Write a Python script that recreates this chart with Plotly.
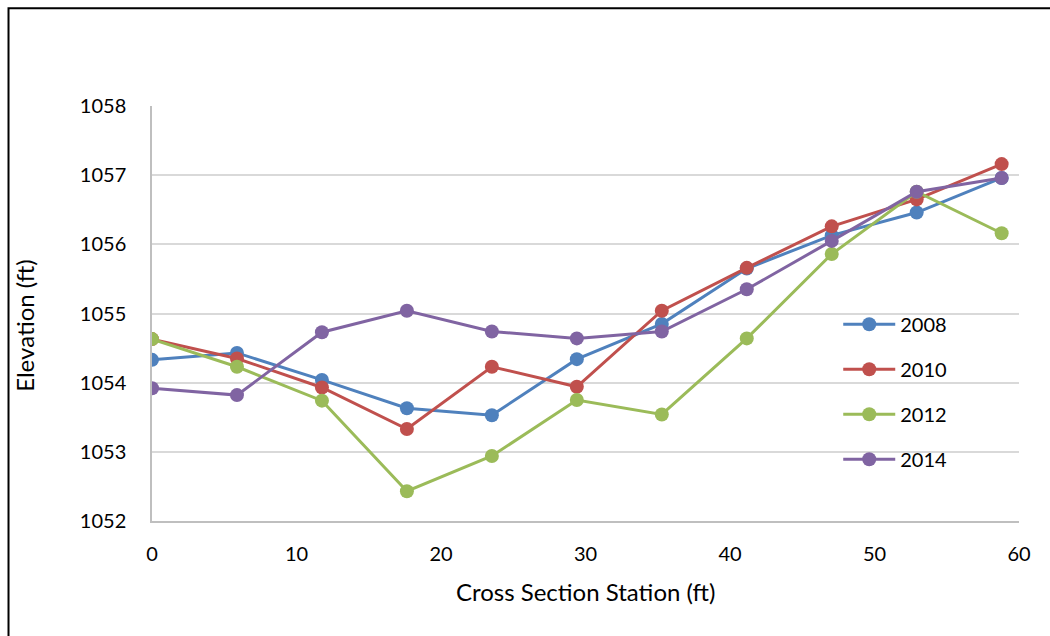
import plotly.graph_objects as go

# Cross section stations (ft)
stations = [0, 5.88, 11.76, 17.64, 23.52, 29.4, 35.28, 41.16, 47.04, 52.92, 58.8]

# Surveyed elevations (ft) by year
elev_2008 = [1054.33, 1054.43, 1054.04, 1053.63, 1053.53, 1054.34, 1054.85, 1055.65, 1056.13, 1056.46, 1056.96]
elev_2010 = [1054.63, 1054.35, 1053.93, 1053.33, 1054.23, 1053.94, 1055.04, 1055.66, 1056.26, 1056.65, 1057.16]
elev_2012 = [1054.63, 1054.23, 1053.74, 1052.43, 1052.94, 1053.75, 1053.54, 1054.64, 1055.86, 1056.76, 1056.16]
elev_2014 = [1053.92, 1053.82, 1054.73, 1055.04, 1054.74, 1054.64, 1054.74, 1055.35, 1056.05, 1056.76, 1056.96]

years = ["2008", "2010", "2012", "2014"]
series = [elev_2008, elev_2010, elev_2012, elev_2014]
colors = ["#4F81BD", "#C0504D", "#9BBB59", "#8064A2"]

x_ticks = [0, 10, 20, 30, 40, 50, 60]
y_ticks = [1052, 1053, 1054, 1055, 1056, 1057, 1058]

FONT = "Lato, 'Open Sans', sans-serif"

fig = go.Figure()
for name, vals, col in zip(years, series, colors):
    fig.add_trace(go.Scatter(
        x=stations, y=vals, name=name, mode="lines+markers",
        line=dict(color=col, width=3),
        marker=dict(color=col, size=14, line=dict(width=0)),
        legendgroup=name,
    ))

fig.update_layout(
    width=1050, height=636,
    margin=dict(l=152, r=31, t=106, b=115),
    paper_bgcolor="white", plot_bgcolor="white",
    font=dict(family=FONT, size=20, color="#000000"),
    showlegend=True,
    legend=dict(
        x=0.7915, y=0.521, xanchor="left", yanchor="top",
        bgcolor="rgba(0,0,0,0)", font=dict(size=20),
        tracegroupgap=16, itemwidth=52,
    ),
    xaxis=dict(
        range=[0, 60], tickvals=x_ticks, showgrid=False, zeroline=False,
        showline=True, linecolor="#BFBFBF", linewidth=1.5,
        ticks="", ticklabelstandoff=14,
    ),
    yaxis=dict(
        range=[1052, 1058], tickvals=y_ticks, showgrid=True,
        gridcolor="#D9D9D9", gridwidth=1.5, zeroline=False,
        showline=True, linecolor="#BFBFBF", linewidth=1.5,
        ticks="", ticklabelstandoff=20,
    ),
    annotations=[
        dict(text="Cross Section Station (ft)", xref="paper", yref="paper",
             x=0.5, y=-0.17, xanchor="center", yanchor="middle",
             showarrow=False, font=dict(size=24)),
        dict(text="Elevation (ft)", xref="paper", yref="paper",
             x=-0.148, y=0.472, xanchor="center", yanchor="middle",
             textangle=-90, showarrow=False, font=dict(size=24)),
    ],
    shapes=[
        dict(type="rect", xref="paper", yref="paper",
             x0=-0.1655, x1=1.05, y0=-0.3, y1=1.2355,
             line=dict(color="black", width=2), fillcolor="rgba(0,0,0,0)",
             layer="below"),
    ],
)

fig.write_html("out.html")
